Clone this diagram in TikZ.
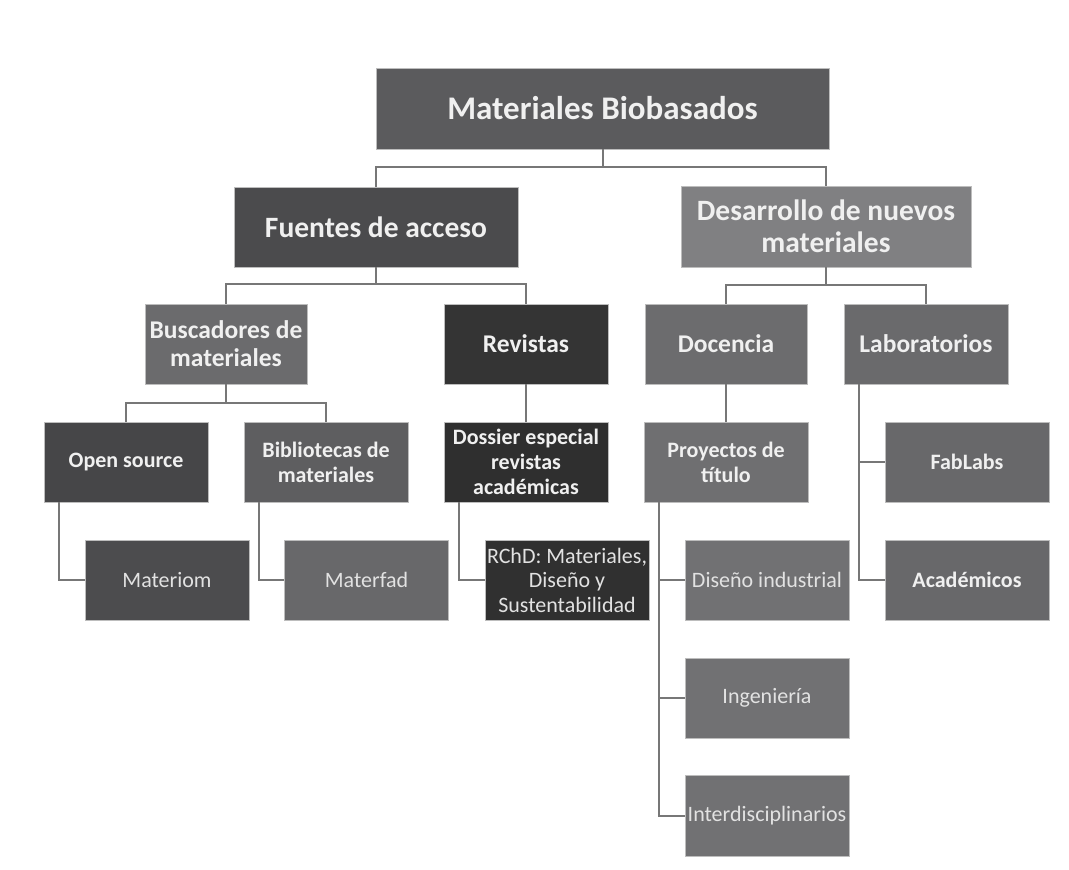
\documentclass[tikz,border=0pt]{standalone}
\usepackage{fontspec}
\setmainfont{Carlito}
\usetikzlibrary{calc}

% box fills
\definecolor{cTop}{HTML}{5B5B5D}
\definecolor{cFuentes}{HTML}{4B4B4D}
\definecolor{cDesarrollo}{HTML}{808082}
\definecolor{cBusc}{HTML}{6B6B6D}
\definecolor{cRev}{HTML}{343434}
\definecolor{cDoc}{HTML}{6C6C6E}
\definecolor{cLab}{HTML}{6A6A6C}
\definecolor{cOpen}{HTML}{464648}
\definecolor{cBib}{HTML}{5E5E60}
\definecolor{cDos}{HTML}{2F2F2F}
\definecolor{cProy}{HTML}{6F6F71}
\definecolor{cMid}{HTML}{68686A}
\definecolor{cMateriom}{HTML}{4C4C4E}
\definecolor{cRchd}{HTML}{303030}
\definecolor{cLight}{HTML}{717173}
\definecolor{cLine}{HTML}{777777}
\definecolor{cEdge}{HTML}{BDBDBD}
\definecolor{cText}{HTML}{F0F0F0}
\definecolor{cTextSoft}{HTML}{E2E2E2}

\tikzset{
  box/.style={rectangle, draw=cEdge, line width=0.8pt, inner sep=1pt,
    align=center, text=cText, minimum width=164pt, minimum height=80pt},
  lvltop/.style={box, font=\fontsize{33}{39}\selectfont\bfseries},
  lvlone/.style={box, font=\fontsize{29.5}{32}\selectfont\bfseries},
  lvltwo/.style={box, font=\fontsize{25.5}{28}\selectfont\bfseries},
  lvlthree/.style={box, font=\fontsize{22}{25}\selectfont\bfseries},
  leaf/.style={box, text=cTextSoft, font=\fontsize{22}{24.5}\selectfont},
  link/.style={draw=cLine, line width=2pt},
}

\begin{document}
\begin{tikzpicture}[x=1pt, y=-1pt]
  \fill[white] (0,0) rectangle (1069,870);
  \useasboundingbox (0,0) rectangle (1069,870);

  % root and first level
  \node[lvltop, fill=cTop, minimum width=453pt, minimum height=81pt] (root) at (602.5,108.5) {Materiales Biobasados};
  \node[lvlone, fill=cFuentes, minimum width=284pt] (fuentes) at (376,227) {Fuentes de acceso};
  \node[lvlone, fill=cDesarrollo, minimum width=290pt, minimum height=81pt] (desarrollo) at (826,226.5) {Desarrollo de nuevos\\materiales};

  % second level
  \node[lvltwo, fill=cBusc, minimum width=162pt] (buscadores) at (226,344) {Buscadores de\\materiales};
  \node[lvltwo, fill=cRev] (revistas) at (526,344) {Revistas};
  \node[lvltwo, fill=cDoc, minimum width=162pt] (docencia) at (726,344) {Docencia};
  \node[lvltwo, fill=cLab] (laboratorios) at (926,344) {Laboratorios};

  % third level
  \node[lvlthree, fill=cOpen] (opensource) at (126,462) {Open source};
  \node[lvlthree, fill=cBib] (bibliotecas) at (326,462) {Bibliotecas de\\materiales};
  \node[lvlthree, fill=cDos] (dossier) at (526,462) {Dossier especial\\revistas\\académicas};
  \node[lvlthree, fill=cProy] (proyectos) at (726,462) {Proyectos de\\título};
  \node[lvlthree, fill=cMid] (fablabs) at (967,462) {FabLabs};

  % leaves
  \node[leaf, fill=cMateriom] (materiom) at (167,580) {Materiom};
  \node[leaf, fill=cMid] (materfad) at (366.5,580) {Materfad};
  \node[leaf, fill=cRchd] (rchd) at (567,580) {RChD: Materiales,\\Diseño y\\Sustentabilidad};
  \node[leaf, fill=cLight] (disind) at (767,580) {Diseño industrial};
  \node[lvlthree, fill=cMid] (academicos) at (967,580) {Académicos};
  \node[leaf, fill=cLight] (ingenieria) at (767,698) {Ingeniería};
  \node[leaf, fill=cLight, minimum height=81pt] (interdis) at (767,815.5) {Interdisciplinarios};

  % tree connectors
  \draw[link] (root.south) -- ++(0,18) -| (fuentes.north);
  \draw[link] (root.south) -- ++(0,18) -| (desarrollo.north);
  \draw[link] (fuentes.south) -- ++(0,17) -| (buscadores.north);
  \draw[link] (fuentes.south) -- ++(0,17) -| (revistas.north);
  \draw[link] (desarrollo.south) -- ++(0,18) -| (docencia.north);
  \draw[link] (desarrollo.south) -- ++(0,18) -| (laboratorios.north);
  \draw[link] (buscadores.south) -- ++(0,19) -| (opensource.north);
  \draw[link] (buscadores.south) -- ++(0,19) -| (bibliotecas.north);
  \draw[link] (revistas.south) -- (dossier.north);
  \draw[link] (docencia.south) -- (proyectos.north);

  % side trunks
  \coordinate (tOpen) at ($(opensource.south west)+(15,0)$);
  \coordinate (tBib) at ($(bibliotecas.south west)+(15,0)$);
  \coordinate (tDos) at ($(dossier.south west)+(15,0)$);
  \coordinate (tProy) at ($(proyectos.south west)+(15,0)$);
  \coordinate (tLab) at ($(laboratorios.south west)+(15,0)$);

  \draw[link] (tOpen) |- (materiom.west);
  \draw[link] (tBib) |- (materfad.west);
  \draw[link] (tDos) |- (rchd.west);
  \draw[link] (tProy) |- (interdis.west);
  \draw[link] (tProy) |- (disind.west);
  \draw[link] (tProy) |- (ingenieria.west);
  \draw[link] (tLab) |- (academicos.west);
  \draw[link] (tLab) |- (fablabs.west);
\end{tikzpicture}
\end{document}
